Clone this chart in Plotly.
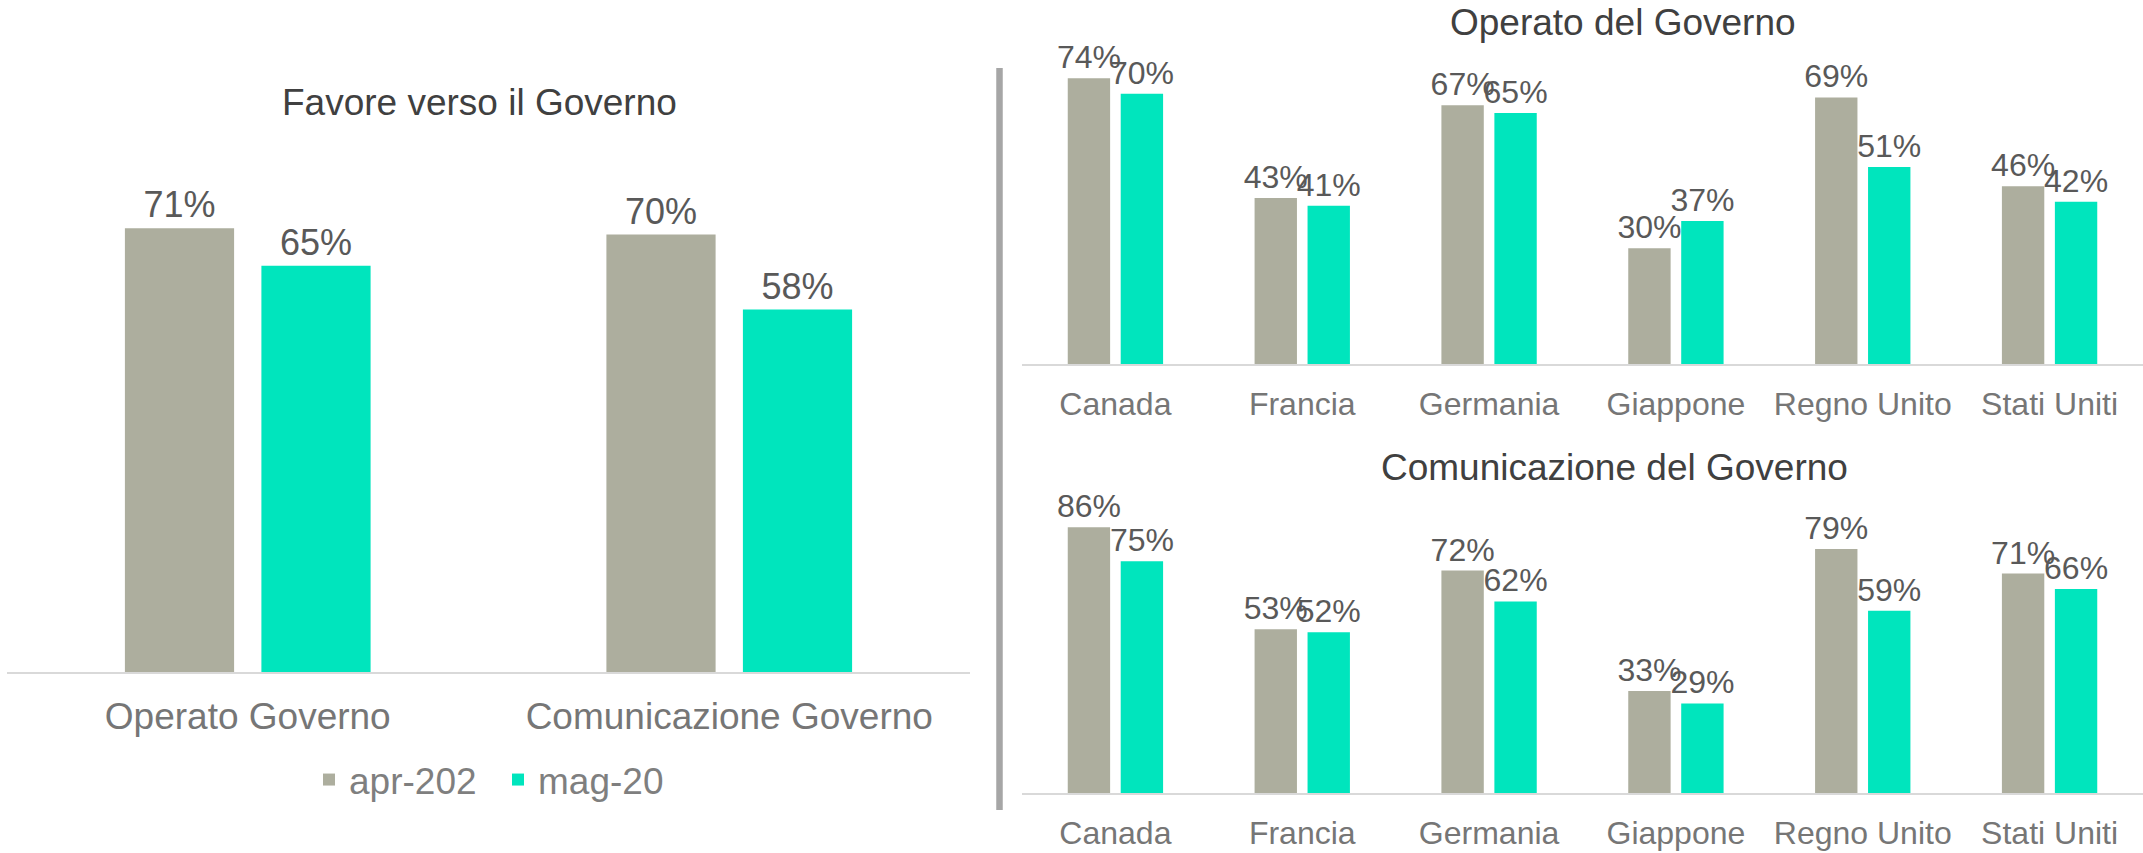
import plotly.graph_objects as go

# data
series_names = ["apr-202", "mag-20"]
favore_cats = ["Operato Governo", "Comunicazione Governo"]
favore_apr = [71, 70]
favore_mag = [65, 58]

paesi = ["Canada", "Francia", "Germania", "Giappone", "Regno Unito", "Stati Uniti"]
operato_apr = [74, 43, 67, 30, 69, 46]
operato_mag = [70, 41, 65, 37, 51, 42]
comunic_apr = [86, 53, 72, 33, 79, 71]
comunic_mag = [75, 52, 62, 29, 59, 66]

GREY = "#ADAE9E"
TEAL = "#00E5BD"
FONT = "Liberation Sans, Arial, sans-serif"
W, H = 2143, 853


def bars(x, y, name, color, xa, ya, size, legend):
    return go.Bar(
        x=x, y=y, name=name, marker=dict(color=color, line=dict(width=0)),
        xaxis=xa, yaxis=ya, showlegend=legend, legendgroup=name,
        text=[f"{v}%" for v in y], textposition="outside", constraintext="none",
        textfont=dict(size=size, color="#595959", family=FONT),
        cliponaxis=False, hoverinfo="x+y",
    )


fig = go.Figure()
fig.add_trace(bars(favore_cats, favore_apr, series_names[0], GREY, "x", "y", 36, True))
fig.add_trace(bars(favore_cats, favore_mag, series_names[1], TEAL, "x", "y", 36, True))
fig.add_trace(bars(paesi, operato_apr, series_names[0], GREY, "x2", "y2", 32, False))
fig.add_trace(bars(paesi, operato_mag, series_names[1], TEAL, "x2", "y2", 32, False))
fig.add_trace(bars(paesi, comunic_apr, series_names[0], GREY, "x3", "y3", 32, False))
fig.add_trace(bars(paesi, comunic_mag, series_names[1], TEAL, "x3", "y3", 32, False))


def xax(domain, anchor, size):
    return dict(domain=domain, anchor=anchor, showline=True, linecolor="#D9D9D9", linewidth=2,
                ticks="", showgrid=False, zeroline=False, fixedrange=True, ticklabelstandoff=11,
                tickfont=dict(size=size, color="#767676", family=FONT))


def yax(domain, rng):
    return dict(domain=domain, range=rng, visible=False, showgrid=False, zeroline=False, fixedrange=True)


def py(px_from_top):
    return (H - px_from_top) / H


def title(text, x, y):
    return dict(text=text, x=x / W, y=py(y), xref="paper", yref="paper", xanchor="center",
                yanchor="middle", showarrow=False, font=dict(size=37, color="#404040", family=FONT))


fig.update_layout(
    width=W, height=H,
    margin=dict(l=0, r=0, t=0, b=0),
    paper_bgcolor="white", plot_bgcolor="white",
    barmode="group", bargap=0.433, bargroupgap=0.2,
    font=dict(family=FONT),
    xaxis=xax([7 / W, 970 / W], "y", 37),
    yaxis=yax([py(672), py(172)], [0, 80]),
    xaxis2=xax([1022 / W, 1.0], "y2", 32),
    yaxis2=yax([py(364), py(55)], [0, 80]),
    xaxis3=xax([1022 / W, 1.0], "y3", 32),
    yaxis3=yax([py(793), py(484)], [0, 100]),
    legend=dict(orientation="h", x=498 / W, xanchor="center", y=py(780), yanchor="middle",
                entrywidth=144, font=dict(size=37, color="#7F7F7F", family=FONT),
                bgcolor="rgba(0,0,0,0)"),
    annotations=[
        title("Favore verso il Governo", 479, 103),
        title("Operato del Governo", 1623, 22),
        title("Comunicazione del Governo", 1614, 467),
    ],
    shapes=[
        dict(type="line", xref="paper", yref="paper", x0=999.5 / W, x1=999.5 / W,
             y0=py(810), y1=py(68), line=dict(color="#A6A6A6", width=6.5)),
    ],
)

# page body has a default 8px margin; drop it so the figure fills the window
fig.write_html("out.html", config={"displayModeBar": False},
               post_script="document.body.style.margin='0';document.body.style.overflow='hidden';")
